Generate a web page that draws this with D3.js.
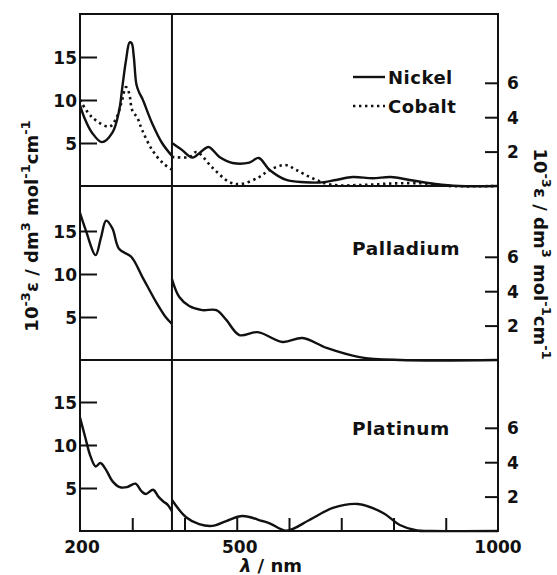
<!DOCTYPE html>
<html><head><meta charset="utf-8">
<script src="https://cdn.jsdelivr.net/npm/d3@7"></script>
<style>body{margin:0;background:#fff}svg{display:block}text{font-family:"DejaVu Sans",sans-serif;font-weight:bold;fill:#111}</style>
</head><body>
<script>
// ---- data (wavelength nm, 10^-3 epsilon) ----
// UV part (200-376 nm) uses left scale, visible part uses right scale
const splitNm = 376;
const nickelUV = [[200,9.4],[208,8.0],[223,6.2],[242,5.1],[262,6.2],[275,8.8],[281,11.5],[288,14.6],[295,16.7],[299,16.6],[303,15.0],[308,11.8],[313,10.9],[319,10.2],[338,7.3],[357,5.0],[376,3.5]];
const nickelVis = [[376,2.5],[395,2.1],[415,1.65],[430,1.95],[446,2.27],[467,1.69],[492,1.34],[524,1.36],[542,1.63],[563,0.93],[595,0.35],[630,0.22],[658,0.2],[690,0.35],[722,0.52],[760,0.45],[795,0.52],[831,0.35],[880,0.12],[925,0],[1000,0]];
const cobaltUV = [[200,10.0],[223,8.0],[256,6.9],[268,7.7],[279,9.6],[288,11.5],[294,10.8],[300,8.8],[310,7.9],[319,6.5],[338,4.2],[358,2.7],[376,1.9]];
const cobaltVis = [[376,1.69],[410,1.69],[423,1.98],[454,1.05],[486,0.23],[509,0.12],[543,0.52],[563,0.93],[593,1.22],[614,0.93],[645,0.45],[680,0.08],[740,0.06],[800,0.15],[860,0.15],[905,0],[1000,0]];
const palladiumUV = [[200,17.1],[211,15.1],[230,12.2],[240,14.2],[250,16.2],[262,15.3],[275,12.9],[298,12.0],[319,9.7],[346,6.7],[365,4.9],[376,4.2]];
const palladiumVis = [[376,4.7],[390,3.66],[409,3.14],[434,2.9],[461,2.9],[480,2.33],[505,1.45],[540,1.62],[588,1.05],[626,1.28],[672,0.7],[735,0.17],[812,0],[1000,0]];
const platinumUV = [[200,13.2],[210,10.9],[220,8.7],[230,7.5],[239,7.9],[249,7.2],[262,5.8],[276,5.1],[290,5.1],[306,5.5],[318,4.6],[326,4.3],[340,4.8],[350,4.0],[360,3.4],[367,3.1],[376,2.3]];
const platinumVis = [[376,1.8],[403,0.8],[428,0.4],[453,0.3],[480,0.58],[511,0.87],[549,0.58],[563,0.45],[595,0.02],[639,0.64],[684,1.34],[732,1.57],[780,1.05],[812,0.35],[845,0.03],[870,0],[1000,0]];

const panelNames = ["", "Palladium", "Platinum"];
const leftTicks = [5, 10, 15];
const rightTicks = [2, 4, 6];
const xMinorTicks = [300, 400, 500, 600, 700, 800, 900];
const xLabels = [200, 500, 1000];
const legendNames = ["Nickel", "Cobalt"];

// ---- layout ----
const W = 557, H = 575;
const L = 80, R = 498;
const edges = [14, 186, 360, 531];
const svg = d3.select("body").append("svg").attr("width", W).attr("height", H);
const x = d3.scaleLinear().domain([200, 1000]).range([L, R]);

const panels = [
  {uv: [nickelUV, cobaltUV], vis: [nickelVis, cobaltVis]},
  {uv: [palladiumUV], vis: [palladiumVis]},
  {uv: [platinumUV], vis: [platinumVis]}
];

const curve = d3.curveCatmullRom.alpha(0.5);
panels.forEach((p, i) => {
  const bottom = edges[i + 1];
  const yL = d3.scaleLinear().domain([0, 20]).range([bottom, bottom - 172]);
  const yR = d3.scaleLinear().domain([0, 10]).range([bottom, bottom - 172]);
  const g = svg.append("g");
  const lineL = d3.line().x(d => x(d[0])).y(d => yL(d[1])).curve(curve);
  const lineR = d3.line().x(d => x(d[0])).y(d => yR(d[1])).curve(curve);
  p.uv.forEach((s, k) => g.append("path").attr("d", lineL(s)).attr("fill", "none")
    .attr("stroke", "#111").attr("stroke-width", k ? 2.6 : 2.4)
    .attr("stroke-dasharray", k ? "2.4,3.6" : null));
  p.vis.forEach((s, k) => g.append("path").attr("d", lineR(s)).attr("fill", "none")
    .attr("stroke", "#111").attr("stroke-width", k ? 2.6 : 2.4)
    .attr("stroke-dasharray", k ? "2.4,3.6" : null));
  // left axis (inward ticks)
  const axL = d3.axisLeft(yL).tickValues(leftTicks).tickSize(-16).tickPadding(20);
  const gl = svg.append("g").attr("transform", `translate(${L + 1},0)`).call(axL);
  gl.select(".domain").remove();
  gl.selectAll("line").attr("stroke", "#111").attr("stroke-width", 2);
  gl.selectAll("text").attr("font-size", 17).attr("x", -4).attr("dy", "0.36em");
  // right axis (inward ticks)
  const axR = d3.axisRight(yR).tickValues(rightTicks).tickSize(-13).tickPadding(22);
  const gr = svg.append("g").attr("transform", `translate(${R},0)`).call(axR);
  gr.select(".domain").remove();
  gr.selectAll("line").attr("stroke", "#111").attr("stroke-width", 2);
  gr.selectAll("text").attr("font-size", 17).attr("x", 9).attr("dy", "0.36em");
  if (panelNames[i]) {
    svg.append("text").attr("x", 352).attr("y", bottom - (i === 1 ? 105 : 96))
      .attr("font-size", 18.5).attr("letter-spacing", 0.6).text(panelNames[i]);
  }
});

// frame and dividers
svg.append("rect").attr("x", L).attr("y", edges[0]).attr("width", R - L).attr("height", edges[3] - edges[0])
  .attr("fill", "none").attr("stroke", "#111").attr("stroke-width", 2);
[edges[1], edges[2]].forEach(yy => svg.append("line").attr("x1", L).attr("x2", R).attr("y1", yy).attr("y2", yy)
  .attr("stroke", "#111").attr("stroke-width", 2));
svg.append("line").attr("x1", x(splitNm)).attr("x2", x(splitNm)).attr("y1", edges[0]).attr("y2", edges[3])
  .attr("stroke", "#111").attr("stroke-width", 2);

// bottom axis: inward ticks, labels only at 200, 500, 1000
const axB = d3.axisBottom(x).tickValues(xMinorTicks).tickSize(-13).tickFormat("");
const gb = svg.append("g").attr("transform", `translate(0,${edges[3]})`).call(axB);
gb.select(".domain").remove();
gb.selectAll("line").attr("stroke", "#111").attr("stroke-width", 2);
svg.selectAll(".xl").data(xLabels).enter().append("text").attr("class", "xl")
  .attr("x", d => x(d) + (d === 500 ? 3 : d === 200 ? 2 : 0)).attr("y", 553)
  .attr("text-anchor", "middle").attr("font-size", 17).text(d => d);
svg.append("text").attr("x", 271).attr("y", 572).attr("text-anchor", "middle").attr("font-size", 18)
  .html('<tspan font-style="italic">λ</tspan> / nm');

// legend
const leg = svg.append("g");
legendNames.forEach((n, k) => {
  const yy = 77 + k * 29;
  leg.append("line").attr("x1", 353).attr("x2", 385).attr("y1", yy).attr("y2", yy)
    .attr("stroke", "#111").attr("stroke-width", k ? 2.6 : 2.4).attr("stroke-dasharray", k ? "2.4,3.6" : null);
  leg.append("text").attr("x", 388).attr("y", yy + 7).attr("font-size", 18).attr("letter-spacing", 0.5).text(n);
});

// axis titles
function unitLabel(sel) {
  const t = sel.attr("font-size", 18).attr("text-anchor", "middle");
  t.append("tspan").text("10");
  t.append("tspan").attr("dy", -8).attr("font-size", 13).text("-3");
  t.append("tspan").attr("dy", 8).text("ε / dm");
  t.append("tspan").attr("dy", -8).attr("font-size", 13).text("3");
  t.append("tspan").attr("dy", 8).text(" mol");
  t.append("tspan").attr("dy", -8).attr("font-size", 13).text("-1");
  t.append("tspan").attr("dy", 8).text("cm");
  t.append("tspan").attr("dy", -8).attr("font-size", 13).text("-1");
}
svg.append("text").attr("transform", "translate(38,226) rotate(-90)").call(unitLabel);
svg.append("text").attr("transform", "translate(534,254) rotate(90)").call(unitLabel);
</script>
</body></html>
